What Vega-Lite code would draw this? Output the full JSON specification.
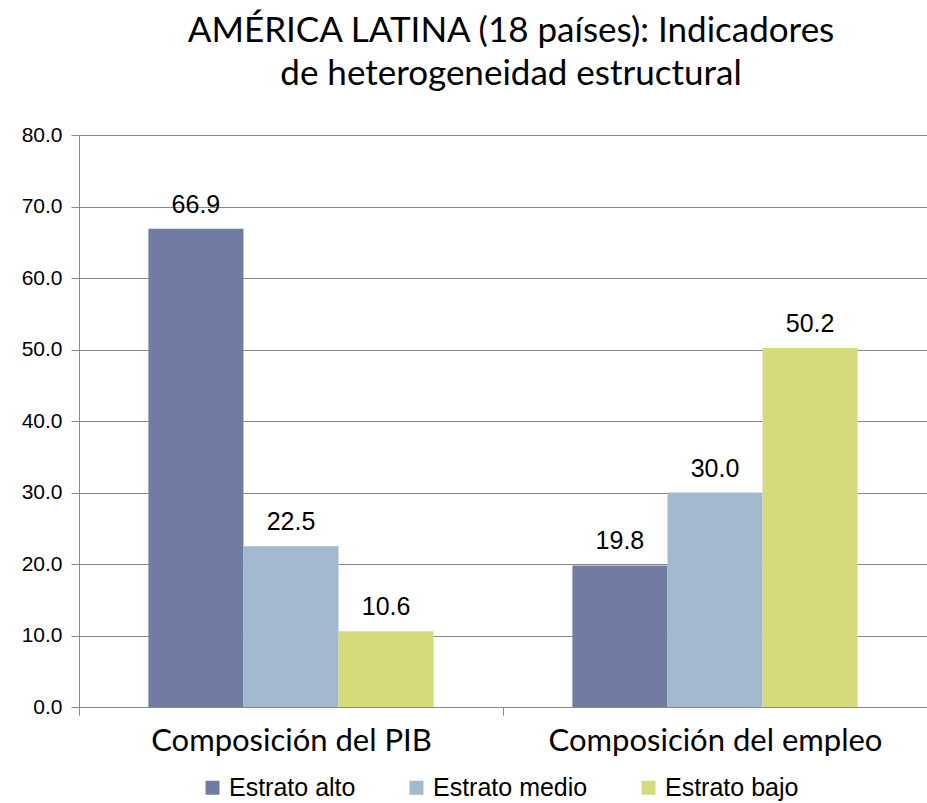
{
  "$schema": "https://vega.github.io/schema/vega-lite/v6.json",
  "autosize": {"type": "none"},
  "padding": {"left": 79, "top": 135, "right": 0, "bottom": 96},
  "width": 848,
  "height": 572,
  "background": "white",
  "title": {
    "text": ["AMÉRICA LATINA (18 países): Indicadores", "de heterogeneidad estructural"],
    "font": "Lato",
    "fontSize": 35,
    "fontWeight": "normal",
    "color": "black",
    "lineHeight": 43,
    "anchor": "middle",
    "dx": 8,
    "offset": 32
  },
  "data": {
    "values": [
      {"categoria": "Composición del PIB", "estrato": "Estrato alto", "valor": 66.9},
      {"categoria": "Composición del PIB", "estrato": "Estrato medio", "valor": 22.5},
      {"categoria": "Composición del PIB", "estrato": "Estrato bajo", "valor": 10.6},
      {"categoria": "Composición del empleo", "estrato": "Estrato alto", "valor": 19.8},
      {"categoria": "Composición del empleo", "estrato": "Estrato medio", "valor": 30.0},
      {"categoria": "Composición del empleo", "estrato": "Estrato bajo", "valor": 50.2}
    ]
  },
  "encoding": {
    "x": {
      "field": "categoria",
      "type": "nominal",
      "sort": ["Composición del PIB", "Composición del empleo"],
      "scale": {"paddingInner": 0, "paddingOuter": 0},
      "axis": {
        "title": null,
        "labelAngle": 0,
        "labelFont": "Lato",
        "labelFontSize": 31,
        "labelLimit": 0,
        "labelColor": "black",
        "labelPadding": 11,
        "domainColor": "#898989",
        "tickColor": "#898989",
        "tickSize": 8,
        "tickBand": "extent",
        "grid": false
      }
    },
    "xOffset": {
      "field": "estrato",
      "type": "nominal",
      "sort": ["Estrato alto", "Estrato medio", "Estrato bajo"],
      "scale": {"paddingInner": 0, "paddingOuter": 0.73}
    },
    "y": {
      "field": "valor",
      "type": "quantitative",
      "scale": {"domain": [0, 80]},
      "axis": {
        "title": null,
        "values": [0, 10, 20, 30, 40, 50, 60, 70, 80],
        "format": ".1f",
        "labelFont": "Liberation Sans",
        "labelFontSize": 21,
        "labelColor": "black",
        "labelPadding": 9,
        "domainColor": "#898989",
        "tickColor": "#898989",
        "tickSize": 8,
        "gridColor": "#898989",
        "gridWidth": 1.2
      }
    }
  },
  "layer": [
    {
      "mark": {"type": "bar"},
      "encoding": {
        "color": {
          "field": "estrato",
          "type": "nominal",
          "sort": ["Estrato alto", "Estrato medio", "Estrato bajo"],
          "scale": {
            "domain": ["Estrato alto", "Estrato medio", "Estrato bajo"],
            "range": ["#727BA2", "#A2B9CF", "#D5DB7C"]
          },
          "legend": {
            "title": null,
            "orient": "none",
            "legendX": 121,
            "legendY": 640,
            "direction": "horizontal",
            "symbolType": "square",
            "symbolSize": 196,
            "symbolStrokeWidth": 0,
            "labelFont": "Liberation Sans",
            "labelFontSize": 25,
            "labelLimit": 0,
            "labelColor": "black",
            "columnPadding": 48,
            "labelOffset": 4
          }
        }
      }
    },
    {
      "mark": {
        "type": "text",
        "baseline": "alphabetic",
        "dy": -16,
        "font": "Liberation Sans",
        "fontSize": 25,
        "color": "black"
      },
      "encoding": {
        "text": {"field": "valor", "type": "quantitative", "format": ".1f"}
      }
    }
  ],
  "config": {
    "view": {"stroke": null}
  }
}
